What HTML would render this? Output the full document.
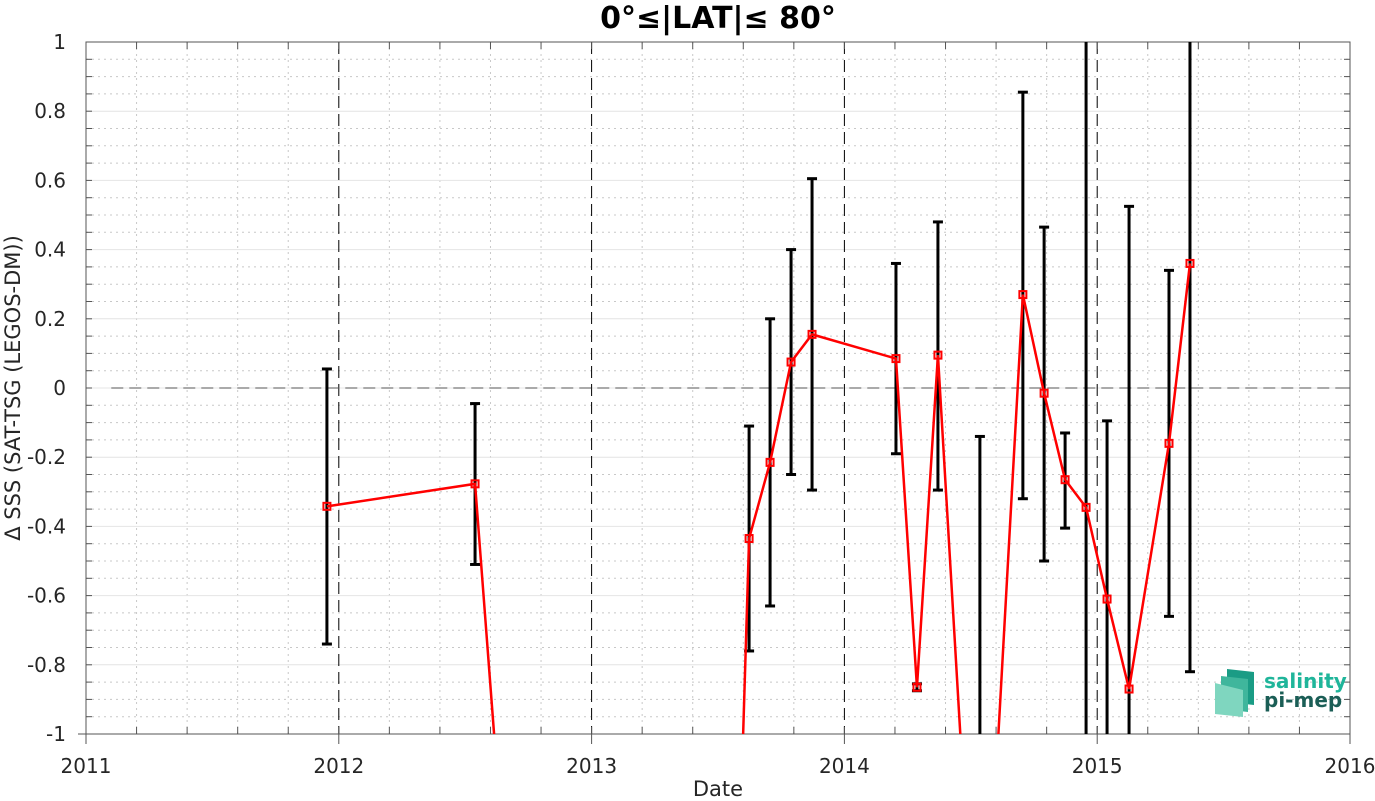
<!DOCTYPE html>
<html><head><meta charset="utf-8"><style>
html,body{margin:0;padding:0;background:#fff;overflow:hidden;width:1375px;height:801px;}
svg{display:block;font-family:"DejaVu Sans","Liberation Sans",sans-serif;}
</style></head><body>
<svg id="chart" width="1375" height="801">
<defs><clipPath id="clip"><rect x="86" y="42" width="1264" height="692"/></clipPath></defs>
<g id="grid"></g>
<g id="axes"></g>
<g id="series" clip-path="url(#clip)"></g>
<text x="718" y="28" text-anchor="middle" font-size="30" font-weight="bold" fill="#000" font-family="DejaVu Sans, sans-serif">0°≤|LAT|≤ 80°</text>
<text x="718" y="796" text-anchor="middle" font-size="21" fill="#262626" font-family="DejaVu Sans, sans-serif">Date</text>
<text transform="translate(20,388) rotate(-90)" text-anchor="middle" font-size="21" fill="#262626" font-family="DejaVu Sans, sans-serif">Δ SSS (SAT-TSG (LEGOS-DM))</text>
<g>
<polygon points="1227,669 1254,672 1254,705 1227,702" fill="#1a9c85"/>
<polygon points="1221,676 1248,679 1248,712 1221,709" fill="#3fb69c"/>
<polygon points="1215,683 1243,690 1243,717 1215,714" fill="#7fd6bf"/>
<text x="1264" y="688" font-size="20" font-weight="bold" fill="#1fb59a" font-family="DejaVu Sans, sans-serif">salinity</text>
<text x="1264" y="707" font-size="20" font-weight="bold" fill="#1b5e56" font-family="DejaVu Sans, sans-serif">pi-mep</text>
</g>
</svg>
<script>
const dates = [2011.953,2012.539,2013.318,2013.623,2013.706,2013.789,2013.872,2014.204,2014.287,2014.370,2014.536,2014.706,2014.790,2014.873,2014.956,2015.039,2015.126,2015.284,2015.367];
const values = [-0.342,-0.277,-7.76,-0.435,-0.215,0.075,0.155,0.085,-0.865,0.095,-1.96,0.27,-0.015,-0.265,-0.345,-0.61,-0.87,-0.16,0.36];
const errLow = [-0.74,-0.51,null,-0.76,-0.63,-0.25,-0.295,-0.19,-0.875,-0.295,-3.78,-0.32,-0.5,-0.405,-1.7,-1.12,-2.27,-0.66,-0.82];
const errHigh = [0.055,-0.045,null,-0.11,0.2,0.4,0.605,0.36,-0.855,0.48,-0.14,0.855,0.465,-0.13,1.01,-0.095,0.525,0.34,1.54];
const xTicks = [2011,2012,2013,2014,2015,2016];
const yTicks = [-1,-0.8,-0.6,-0.4,-0.2,0,0.2,0.4,0.6,0.8,1];
const NS='http://www.w3.org/2000/svg';
const X0=86,X1=1350,Y0=42,Y1=734;
const xs=v=>X0+(v-2011)/5*(X1-X0);
const ys=v=>Y1-(v+1)/2*(Y1-Y0);
function mk(parent,tag,attrs){const e=document.createElementNS(NS,tag);for(const k in attrs)e.setAttribute(k,attrs[k]);parent.appendChild(e);return e;}
const grid=document.getElementById('grid'),axes=document.getElementById('axes'),series=document.getElementById('series');
for(let i=0;i<=40;i++){const v=-1+i*0.05;const y=ys(v);
 if(i%4!==0){const l=mk(grid,'line',{x1:X0,x2:X1,y1:y,y2:y,stroke:'#c8c8c8','stroke-dasharray':'2,4','stroke-width':1});
 
 }
 const t1=mk(axes,'line',{x1:X0,x2:X0+6,y1:y,y2:y,stroke:'#555'});
 
 
 const t2=mk(axes,'line',{x1:X1-6,x2:X1,y1:y,y2:y,stroke:'#555'});
 
 }
for(let i=0;i<=25;i++){const v=2011+i*0.2;const x=xs(v);
 if(i%5!==0){const l=mk(grid,'line',{x1:x,x2:x,y1:Y0,y2:Y1,stroke:'#c8c8c8','stroke-dasharray':'2,4','stroke-width':1});
 
 }
 const t1=mk(axes,'line',{x1:x,x2:x,y1:Y1,y2:Y1-7,stroke:'#555'});
 
 
 const t2=mk(axes,'line',{x1:x,x2:x,y1:Y0,y2:Y0+7,stroke:'#555'});
 
 }
yTicks.forEach(v=>{const y=ys(v);
 const l=mk(grid,'line',{x1:X0,x2:X1,y1:y,y2:y,stroke:'#e4e4e4'});
 
 
 const t=mk(axes,'text',{x:X0-20,y:y+7,'text-anchor':'end','font-size':20,fill:'#262626','font-family':'DejaVu Sans, sans-serif'});
 t.textContent=String(v);
 
 });
xTicks.forEach(v=>{const x=xs(v);
 if(v>2011&&v<2016){const l=mk(grid,'line',{x1:x,x2:x,y1:Y0,y2:Y1,stroke:'#000','stroke-dasharray':'12,6','stroke-width':1});
 
 }
 const tk=mk(axes,'line',{x1:x,x2:x,y1:Y1,y2:Y1+10,stroke:'#555'});
 
 
 const t=mk(axes,'text',{x:x,y:Y1+39,'text-anchor':'middle','font-size':20,fill:'#262626','font-family':'DejaVu Sans, sans-serif'});
 t.textContent=String(v);
 
 });
const zl=mk(grid,'line',{x1:xs(2011.1),x2:X1,y1:ys(0),y2:ys(0),stroke:'#555','stroke-dasharray':'12,6'});


const box=mk(axes,'rect',{x:X0,y:Y0,width:X1-X0,height:Y1-Y0,fill:'none',stroke:'#555','stroke-width':1});


const lb=mk(axes,'line',{x1:X0-8,x2:X0,y1:Y1,y2:Y1,stroke:'#555'});


dates.forEach((d,i)=>{if(errLow[i]===null)return;const x=xs(d);
 const g=mk(series,'g',{});
 
 
 mk(g,'line',{x1:x,x2:x,y1:ys(errLow[i]),y2:ys(errHigh[i]),stroke:'#000','stroke-width':3});
 mk(g,'line',{x1:x-5,x2:x+5,y1:ys(errLow[i]),y2:ys(errLow[i]),stroke:'#000','stroke-width':3});
 mk(g,'line',{x1:x-5,x2:x+5,y1:ys(errHigh[i]),y2:ys(errHigh[i]),stroke:'#000','stroke-width':3});});
const pl=mk(series,'polyline',{points:dates.map((d,i)=>xs(d)+','+ys(values[i])).join(' '),fill:'none',stroke:'#f00','stroke-width':2.5});


dates.forEach((d,i)=>{const r=mk(series,'rect',{x:xs(d)-3.5,y:ys(values[i])-3.5,width:7,height:7,fill:'none',stroke:'#f00','stroke-width':2});
 
 });
</script>
</body></html>
